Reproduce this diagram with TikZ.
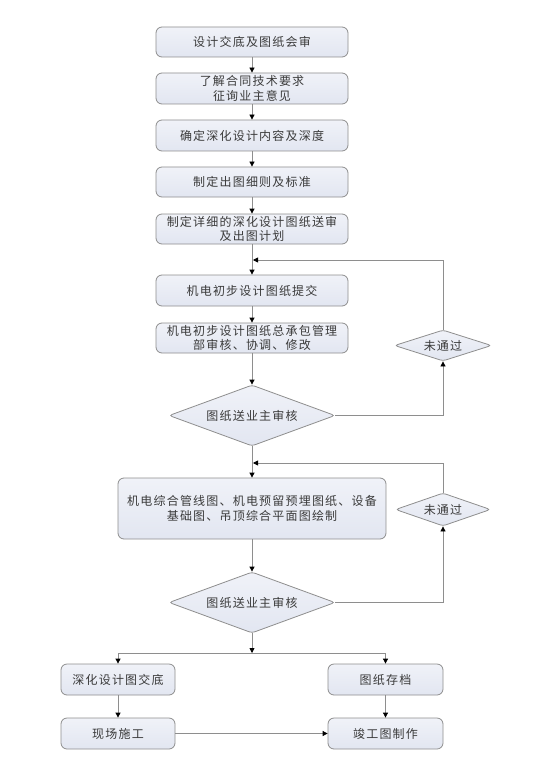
\documentclass[tikz,border=0pt]{standalone}
\usepackage{fontspec}
\newfontfamily\cjk[LetterSpace=10]{Noto Sans CJK SC}
\usetikzlibrary{shapes.geometric,arrows.meta}
\definecolor{boxtop}{HTML}{F0F2F8}
\definecolor{boxbot}{HTML}{E2E6F1}
\definecolor{edge}{HTML}{8E8E8E}
\definecolor{txt}{HTML}{3A3A3A}
\tikzset{
  stepbox/.style={draw=edge, line width=0.8pt, rounded corners=6pt,
    top color=boxtop, bottom color=boxbot, text=txt,
    font=\cjk\fontsize{12}{14.5}\selectfont, align=center, inner sep=0pt,
    minimum width=192pt, minimum height=30pt},
  decide/.style={draw=edge, line width=0.8pt, diamond, rounded corners=3pt,
    top color=boxtop, bottom color=boxbot, text=txt, aspect=2.7,
    font=\cjk\fontsize{12}{14.5}\selectfont, inner sep=0pt},
  ln/.style={draw=edge, line width=0.8pt},
  arr/.style={ln, -{Triangle[width=5pt,length=5pt,color=black]}},
}
\begin{document}
\begin{tikzpicture}[x=1pt,y=-1pt]
\useasboundingbox[fill=white] (0,0) rectangle (556,778);
\node[stepbox] (b1) at (252,42) {设计交底及图纸会审};
\node[stepbox, minimum height=31pt] (b2) at (252,88.5) {了解合同技术要求\\征询业主意见};
\node[stepbox, minimum height=31pt] (b3) at (252,135.5) {确定深化设计内容及深度};
\node[stepbox] (b4) at (252,182) {制定出图细则及标准};
\node[stepbox] (b5) at (252,229) {制定详细的深化设计图纸送审\\及出图计划};
\node[stepbox, minimum height=31pt] (b6) at (252,290.5) {机电初步设计图纸提交};
\node[stepbox] (b7) at (252,338) {机电初步设计图纸总承包管理\\部审核、协调、修改};
\node[decide, minimum width=166pt, minimum height=61pt] (d1) at (252,415.5) {图纸送业主审核};
\node[decide, minimum width=97pt, minimum height=31pt] (s1) at (443,345.5) {未通过};
\node[stepbox, minimum width=268pt, minimum height=61pt] (b8) at (252,508.5) {机电综合管线图、机电预留预埋图纸、设备\\基础图、吊顶综合平面图绘制};
\node[decide, minimum width=95pt, minimum height=33pt] (s2) at (443,509.5) {未通过};
\node[decide, minimum width=166pt, minimum height=61pt] (d2) at (252,602.5) {图纸送业主审核};
\node[stepbox, minimum width=114pt, minimum height=31pt] (b9) at (118,679.5) {深化设计图交底};
\node[stepbox, minimum width=115pt, minimum height=31pt] (b10) at (385.5,679.5) {图纸存档};
\node[stepbox, minimum width=114pt, minimum height=31pt] (b11) at (118,733.5) {现场施工};
\node[stepbox, minimum width=115pt, minimum height=31pt] (b12) at (385.5,733.5) {竣工图制作};
\coordinate (j1) at (253,260);
\coordinate (j2) at (253,463);
\coordinate (j3) at (252,653);
\draw[arr] (b1) -- (b2);
\draw[arr] (b2) -- (b3);
\draw[arr] (b3) -- (b4);
\draw[arr] (b4) -- (b5);
\draw[arr] (b5) -- (b6);
\draw[arr] (b6) -- (b7);
\draw[arr] (b7) -- (d1);
\draw[arr] (d1.east) -| (s1.south);
\draw[arr] (s1.north) |- (j1);
\draw[arr] (d1) -- (b8);
\draw[arr] (b8) -- (d2);
\draw[arr] (d2.east) -| (s2.south);
\draw[arr] (s2.north) |- (j2);
\draw[arr] (d2.south) -- (j3);
\draw[arr] (j3) -| (b9.north);
\draw[arr] (j3) -| (b10.north);
\draw[arr] (b9) -- (b11);
\draw[arr] (b10) -- (b12);
\draw[arr] (b11) -- (b12);
\end{tikzpicture}
\end{document}
